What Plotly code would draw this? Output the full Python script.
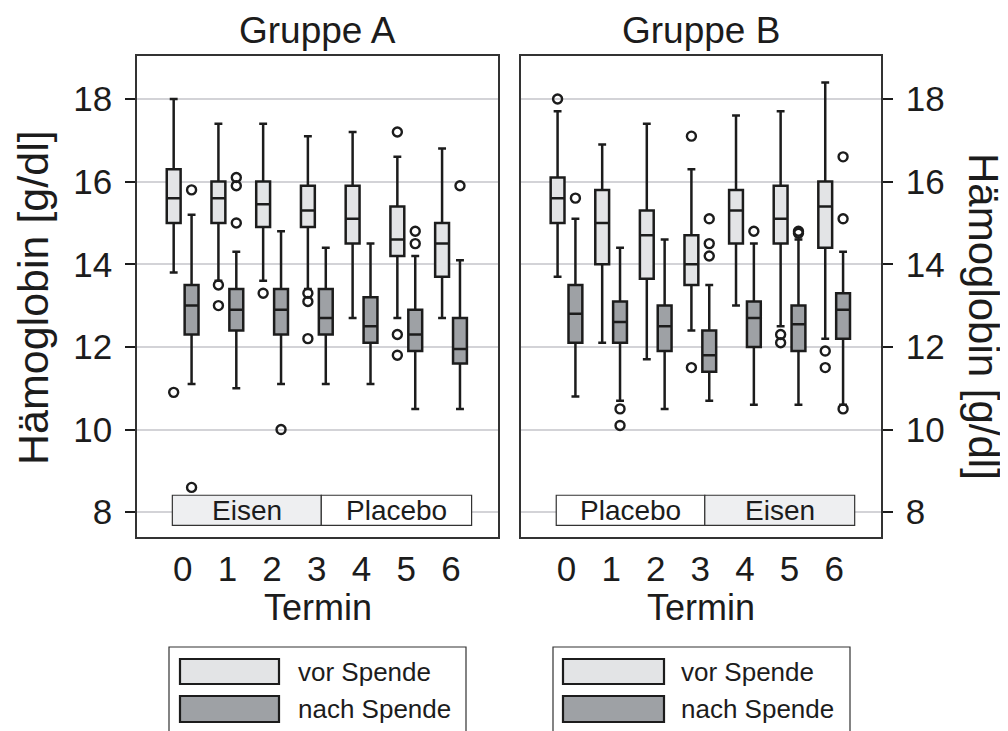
import plotly.graph_objects as go

# ---------------- data ----------------
termine = [0, 1, 2, 3, 4, 5, 6]

# Gruppe A - vor Spende
A_vor_hi = [18.0, 17.4, 17.4, 17.1, 17.2, 16.6, 16.8]
A_vor_q3 = [16.3, 16.0, 16.0, 15.9, 15.9, 15.4, 15.0]
A_vor_med = [15.6, 15.6, 15.45, 15.3, 15.1, 14.6, 14.5]
A_vor_q1 = [15.0, 15.0, 14.9, 14.9, 14.5, 14.2, 13.7]
A_vor_lo = [13.8, 13.6, 13.6, 13.4, 12.7, 12.7, 12.7]
A_vor_out = [[10.9], [13.5, 13.0], [13.3], [13.3, 13.1, 12.2], [], [17.2, 12.3, 11.8], []]

# Gruppe A - nach Spende
A_nach_hi = [15.2, 14.3, 14.8, 14.4, 14.5, 14.2, 14.1]
A_nach_q3 = [13.5, 13.4, 13.4, 13.4, 13.2, 12.9, 12.7]
A_nach_med = [13.0, 12.9, 12.9, 12.7, 12.5, 12.3, 11.95]
A_nach_q1 = [12.3, 12.4, 12.3, 12.3, 12.1, 11.9, 11.6]
A_nach_lo = [11.1, 11.0, 11.1, 11.1, 11.1, 10.5, 10.5]
A_nach_out = [[15.8, 8.6], [16.1, 15.9, 15.0], [10.0], [], [], [14.8, 14.5], [15.9]]

# Gruppe B - vor Spende
B_vor_hi = [17.7, 16.9, 17.4, 16.3, 17.6, 17.7, 18.4]
B_vor_q3 = [16.1, 15.8, 15.3, 14.7, 15.8, 15.9, 16.0]
B_vor_med = [15.6, 15.0, 14.7, 14.0, 15.3, 15.1, 15.4]
B_vor_q1 = [15.0, 14.0, 13.65, 13.5, 14.5, 14.5, 14.4]
B_vor_lo = [13.7, 12.1, 11.7, 12.4, 13.0, 12.5, 12.2]
B_vor_out = [[18.0], [], [], [17.1, 11.5], [], [12.3, 12.1], [11.9, 11.5]]

# Gruppe B - nach Spende
B_nach_hi = [15.1, 14.4, 14.6, 13.5, 14.5, 14.6, 14.3]
B_nach_q3 = [13.5, 13.1, 13.0, 12.4, 13.1, 13.0, 13.3]
B_nach_med = [12.8, 12.6, 12.5, 11.8, 12.7, 12.55, 12.9]
B_nach_q1 = [12.1, 12.1, 11.9, 11.4, 12.0, 11.9, 12.2]
B_nach_lo = [10.8, 10.7, 10.5, 10.7, 10.6, 10.6, 10.6]
B_nach_out = [[15.6], [10.5, 10.1], [], [15.1, 14.5, 14.2], [14.8], [14.8, 14.75], [16.6, 15.1, 10.5]]

y_ticks = [8, 10, 12, 14, 16, 18]
gruppen = ["Gruppe A", "Gruppe B"]
serien = ["vor Spende", "nach Spende"]
behandlung_A = ["Eisen", "Placebo"]
behandlung_B = ["Placebo", "Eisen"]
phase_grenzen = [-0.23, 3.1, 6.46]   # Termin-Spannen der Behandlungsphasen

# ---------------- style ----------------
FONT = "Liberation Sans, Arial, Helvetica, sans-serif"
DARK = "#1c1c1c"
FILL_VOR = "#e3e4e6"
FILL_NACH = "#9ea1a5"
GRID = "#d3d3d7"
OFFSET = 0.2
BOXW = 0.31

W, H = 1008, 731
SH = 8  # page body margin compensation
def px(x):
    return (x - SH) / W
def py(y):
    return 1 - (y - SH) / H

fig = go.Figure()

def add_panel(xa, ya, vor, nach):
    for stats, off, fill in ((vor, -OFFSET, FILL_VOR), (nach, OFFSET, FILL_NACH)):
        hi, q3, med, q1, lo, out = stats
        pos = [t + off for t in termine]
        fig.add_trace(go.Box(
            x=pos, q1=q1, median=med, q3=q3, lowerfence=lo, upperfence=hi,
            width=BOXW, whiskerwidth=0.57, fillcolor=fill,
            line=dict(color=DARK, width=2.5), boxpoints=False,
            xaxis=xa, yaxis=ya, showlegend=False, hoverinfo="skip"))
        ox, oy = [], []
        for t, vals in zip(termine, out):
            for v in vals:
                ox.append(t + off)
                oy.append(v)
        fig.add_trace(go.Scatter(
            x=ox, y=oy, mode="markers", xaxis=xa, yaxis=ya, showlegend=False,
            marker=dict(symbol="circle-open", size=9, color=DARK, line=dict(width=2.4)),
            hoverinfo="skip"))

add_panel("x", "y",
          (A_vor_hi, A_vor_q3, A_vor_med, A_vor_q1, A_vor_lo, A_vor_out),
          (A_nach_hi, A_nach_q3, A_nach_med, A_nach_q1, A_nach_lo, A_nach_out))
add_panel("x2", "y2",
          (B_vor_hi, B_vor_q3, B_vor_med, B_vor_q1, B_vor_lo, B_vor_out),
          (B_nach_hi, B_nach_q3, B_nach_med, B_nach_q1, B_nach_lo, B_nach_out))

xr = [-1.02, 7.05]
yr = [7.4, 19.04]
ydom = [py(537), py(56)]

common_x = dict(range=xr, tickvals=termine, showgrid=False, zeroline=False,
                showline=True, mirror=True, linecolor="#333333", linewidth=1.5,
                ticks="", ticklabelstandoff=0,
                tickfont=dict(family=FONT, size=35, color=DARK))
common_y = dict(range=yr, tickvals=y_ticks, showgrid=True, gridcolor=GRID, gridwidth=2,
                zeroline=False, showline=True, mirror=True, linecolor="#333333",
                linewidth=1.5, ticks="outside", ticklen=10, tickwidth=2, tickcolor=DARK,
                ticklabelstandoff=6,
                tickfont=dict(family=FONT, size=35, color=DARK))

fig.update_layout(
    width=W, height=H, margin=dict(l=0, r=0, t=0, b=0),
    paper_bgcolor="white", plot_bgcolor="white",
    xaxis=dict(domain=[px(137), px(498)], anchor="y", **common_x),
    yaxis=dict(domain=ydom, anchor="x", side="left", **common_y),
    xaxis2=dict(domain=[px(521), px(881)], anchor="y2", **common_x),
    yaxis2=dict(domain=ydom, anchor="x2", side="right", **common_y),
    boxmode="overlay",
)

shapes = []
annotations = []

def note(x, y, text, size, **kw):
    d = dict(xref="paper", yref="paper", x=x, y=y, text=text, showarrow=False,
             xanchor="center", yanchor="middle",
             font=dict(family=FONT, size=size, color=DARK))
    d.update(kw)
    annotations.append(d)

# treatment phase boxes
for xa, ya, labels in (("x", "y", behandlung_A), ("x2", "y2", behandlung_B)):
    for i, lab in enumerate(labels):
        fill = "#eeeff1" if lab == "Eisen" else "white"
        shapes.append(dict(type="rect", xref=xa, yref=ya,
                           x0=phase_grenzen[i], x1=phase_grenzen[i + 1], y0=7.68, y1=8.41,
                           fillcolor=fill, line=dict(color="#333333", width=1.2), layer="above"))
        annotations.append(dict(xref=xa, yref=ya, x=(phase_grenzen[i] + phase_grenzen[i + 1]) / 2,
                                y=8.04, text=lab, showarrow=False,
                                xanchor="center", yanchor="middle",
                                font=dict(family=FONT, size=28, color=DARK)))

# titles
for g, cx in zip(gruppen, (317.5, 701)):
    note(px(cx), py(30), g, 37)
    note(px(cx), py(607), "Termin", 36)

note(px(33), py(298), "Hämoglobin [g/dl]", 43, textangle=-90)
note(px(983), py(316), "Hämoglobin [g/dl]", 42, textangle=90)

# legends (manual, wide swatches)
for lx0, lx1, sx0, sx1, tx in ((169, 466, 180, 279, 296), (553, 850, 563, 664, 679)):
    shapes.append(dict(type="rect", xref="paper", yref="paper", x0=px(lx0), x1=px(lx1),
                       y0=py(760), y1=py(647), line=dict(color="#333333", width=1.2),
                       fillcolor="white", layer="above"))
    for (name, fill, y0, y1) in ((serien[0], FILL_VOR, 659, 684), (serien[1], FILL_NACH, 696, 722)):
        shapes.append(dict(type="rect", xref="paper", yref="paper", x0=px(sx0), x1=px(sx1),
                           y0=py(y1), y1=py(y0), fillcolor=fill,
                           line=dict(color=DARK, width=2.2), layer="above"))
        note(px(tx), py((y0 + y1) / 2), name, 26, xanchor="left")

fig.update_layout(shapes=shapes, annotations=annotations)
fig.write_html("out.html")
